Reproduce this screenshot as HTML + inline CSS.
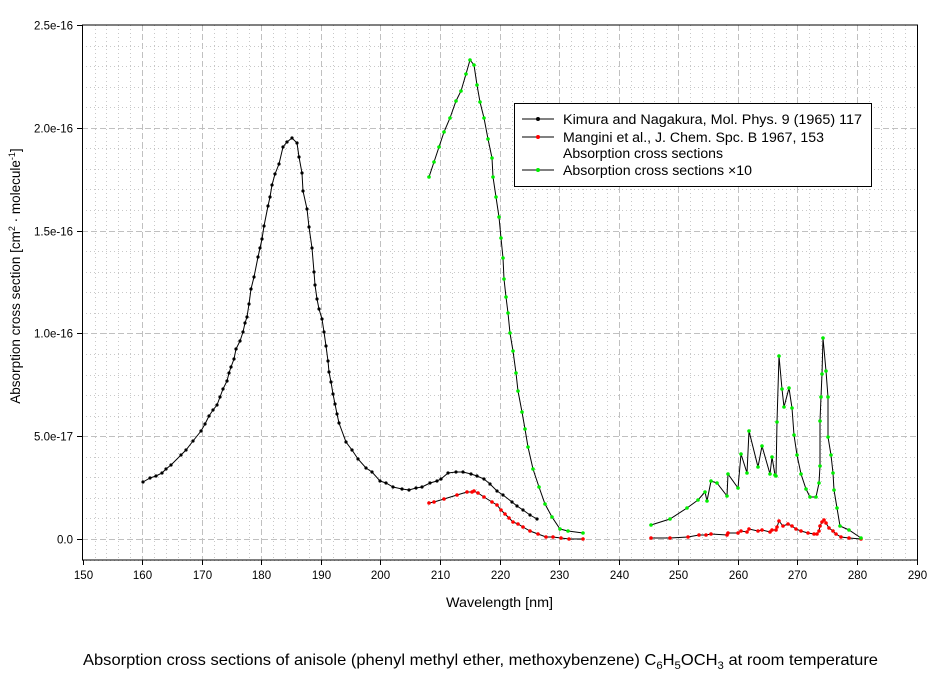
<!DOCTYPE html>
<html><head><meta charset="utf-8"><style>
html,body{margin:0;padding:0;background:#fff;}
svg{display:block;font-family:"Liberation Sans",Arial,sans-serif;}
</style></head><body>
<svg id="s" width="942" height="676" viewBox="0 0 942 676" xmlns="http://www.w3.org/2000/svg">
<defs>
<marker id="mk" markerUnits="userSpaceOnUse" markerWidth="6" markerHeight="6" refX="3" refY="3"><circle cx="3" cy="3" r="1.6" fill="#000"/></marker>
<marker id="mr" markerUnits="userSpaceOnUse" markerWidth="6" markerHeight="6" refX="3" refY="3"><circle cx="3" cy="3" r="1.8" fill="#ff0000"/></marker>
<marker id="mg" markerUnits="userSpaceOnUse" markerWidth="6" markerHeight="6" refX="3" refY="3"><circle cx="3" cy="3" r="1.8" fill="#00ee00"/></marker>
</defs>
<g id="grid"></g>
<rect x="82.5" y="25" width="835" height="535" fill="none" stroke="#000" stroke-width="1"/>
<g id="ticks" font-size="11.5"></g>

<polyline fill="none" stroke="#000" stroke-width="1" marker-start="url(#mk)" marker-mid="url(#mk)" marker-end="url(#mk)" points="143,482 150,478 156,476 162,473 166,469 171,465 181,455 186,450 193,441 201,431 205,424 209,416 213,410 217,405 220,397 223,389 227,381 229,373 231,367 234,359 236,349 240,341 243,332 245,323 247,317 249,304 251,289 254,277 258,257 260,248 262,239 264,226 268,206 270,197 272,185 275,174 279,164 283,147 287,142 292,138 297,143 299,157 302,173 303,191 307,209 309,227 312,248 314,272 315,285 317,299 319,309 322,319 324,332 326,346 328,361 329,372 331,382 333,394 335,404 337,414 339,423 346,442 352,450 358,459 366,468 372,472 380,481 386,483 393,487 402,489 409,490 416,488 422,487 430,483 437,481 441,479 448,473 456,472 463,472 471,474 477,476 484,479 490,484 497,491 503,495 512,502 517,506 523,510 530,515 537,519"/>

<polyline fill="none" stroke="#000" stroke-width="1" marker-start="url(#mr)" marker-mid="url(#mr)" marker-end="url(#mr)" points="429,503 434,502 444,499 457,495 467,492 472,492 474,491 478,493 484,497 492,502 497,505 501,510 505,514 509,518 513,522 518,524 523,527 530,531 538,534 546,537 553,537 561,538 569,539 583,539"/>

<polyline fill="none" stroke="#000" stroke-width="1" marker-start="url(#mg)" marker-mid="url(#mg)" marker-end="url(#mg)" points="429,177 434,162 439,147 444,132 450,118 456,101 461,91 466,74 470,60 474,65 477,85 480,102 484,118 488,139 492,158 493,177 496,197 499,217 501,238 503,258 504,279 506,297 508,313 510,333 513,351 516,373 518,391 522,412 525,429 528,447 533,469 539,487 545,504 552,517 560,529 568,531 583,533"/>

<polyline fill="none" stroke="#000" stroke-width="1" marker-start="url(#mr)" marker-mid="url(#mr)" marker-end="url(#mr)" points="651,538 670,538 688,537 699,535 706,535 711,534 727,535 728,533 738,533 741,531 747,532 749,529 758,531 762,530 770,532 772,530 776,530 777,527 779,521 783,526 788,524 792,526 796,529 801,531 808,533 814,534 817,534 819,531 820,526 822,522 824,520 826,523 829,528 833,531 836,534 841,537 849,538 861,539"/>

<polyline fill="none" stroke="#000" stroke-width="1" marker-start="url(#mg)" marker-mid="url(#mg)" marker-end="url(#mg)" points="651,525 670,519 687,508 698,500 705,492 707,501 711,481 717,483 727,496 728,474 738,488 741,454 747,473 749,431 758,467 762,446 770,474 772,457 775,475 776,476 777,422 779,356 782,389 784,407 789,388 792,408 794,435 797,455 801,474 806,489 810,497 816,497 819,483 820,466 820,421 821,397 822,374 823,338 826,371 828,397 828,437 831,455 833,473 834,490 837,508 840,526 849,530 861,538"/>

<rect x="514.5" y="103.5" width="357" height="83" fill="#fff" stroke="#000"/>
<g font-size="13.5" fill="#000">
<line x1="522" y1="119" x2="554" y2="119" stroke="#000"/><circle cx="538" cy="119" r="2" fill="#000"/>
<text x="563" y="124" textLength="299" lengthAdjust="spacingAndGlyphs">Kimura and Nagakura,  Mol. Phys. 9 (1965) 117</text>
<line x1="522" y1="137" x2="554" y2="137" stroke="#000"/><circle cx="538" cy="137" r="2" fill="#f00"/>
<text x="563" y="142" textLength="261" lengthAdjust="spacingAndGlyphs">Mangini et al., J. Chem. Spc. B 1967, 153</text>
<text x="563" y="158" textLength="160" lengthAdjust="spacingAndGlyphs">Absorption cross sections</text>
<line x1="522" y1="170" x2="554" y2="170" stroke="#000"/><circle cx="538" cy="170" r="2" fill="#0e0"/>
<text x="563" y="175" textLength="189" lengthAdjust="spacingAndGlyphs">Absorption cross sections ×10</text>
</g>

<text x="446" y="607" font-size="13.5" textLength="107" lengthAdjust="spacingAndGlyphs">Wavelength [nm]</text>
<text transform="translate(20,276) rotate(-90)" font-size="13.5" text-anchor="middle">Absorption cross section [cm<tspan font-size="9" dy="-5">2</tspan><tspan dy="5"> · molecule</tspan><tspan font-size="9" dy="-5">-1</tspan><tspan dy="5">]</tspan></text>
<text x="83" y="665" font-size="16" textLength="795" lengthAdjust="spacingAndGlyphs">Absorption cross sections of anisole (phenyl methyl ether, methoxybenzene) C<tspan font-size="11" dy="4">6</tspan><tspan dy="-4">H</tspan><tspan font-size="11" dy="4">5</tspan><tspan dy="-4">OCH</tspan><tspan font-size="11" dy="4">3</tspan><tspan dy="-4"> at room temperature</tspan></text>
</svg>
<script>
var NS="http://www.w3.org/2000/svg";
var g=document.getElementById("grid"),t=document.getElementById("ticks");
function el(p,n,a,txt){var e=document.createElementNS(NS,n);for(var k in a)e.setAttribute(k,a[k]);if(txt)e.textContent=txt;p.appendChild(e);return e;}
function X(nm){return 82.6+(nm-150)*5.957;}
function Y(v){return 539-v*205.6;}
for(var nm=152;nm<290;nm+=2){var x=Math.round(X(nm))+0.5;
 if(nm%10==0)el(g,"line",{x1:x,y1:25,x2:x,y2:560,stroke:"#c0c0c0","stroke-dasharray":"6,3"});
 else el(g,"line",{x1:x,y1:25,x2:x,y2:560,stroke:"#c8c8c8","stroke-dasharray":"1,3"});}
for(var i=-1;i<25;i++){var v=i/10;var y=Math.round(Y(v))+0.5;
 if(i%5==0)el(g,"line",{x1:82,y1:y,x2:918,y2:y,stroke:"#c0c0c0","stroke-dasharray":"6,3"});
 else el(g,"line",{x1:82,y1:y,x2:918,y2:y,stroke:"#c8c8c8","stroke-dasharray":"1,3"});}
for(var nm=150;nm<=290;nm+=10){var x=Math.round(X(nm))+0.5;
 el(t,"line",{x1:x,y1:560,x2:x,y2:565,stroke:"#000"});
 el(t,"text",{x:x,y:579,"text-anchor":"middle"},""+nm);}
var labs=["0.0","5.0e-17","1.0e-16","1.5e-16","2.0e-16","2.5e-16"];
for(var i=0;i<6;i++){var y=Math.round(Y(i*0.5))+0.5;
 el(t,"line",{x1:77,y1:y,x2:82,y2:y,stroke:"#000"});
 el(t,"text",{x:73,y:y+4,"text-anchor":"end"},labs[i]);}
</script>
</body></html>
